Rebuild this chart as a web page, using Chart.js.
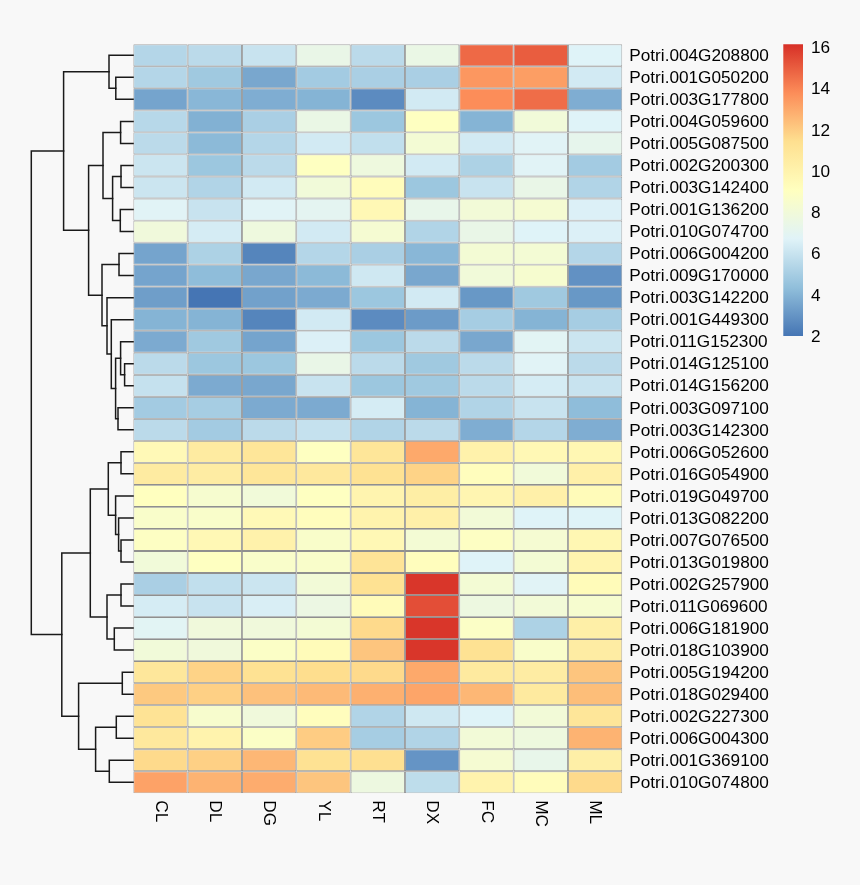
<!DOCTYPE html>
<html>
<head>
<meta charset="utf-8">
<title>Potri expression heatmap</title>
<script src="https://cdn.jsdelivr.net/npm/chart.js@4"></script>
<style>
  html, body { margin: 0; padding: 0; background: #f8f8f8; }
  #wrap { position: relative; width: 860px; height: 885px; overflow: hidden; }
  canvas { position: absolute; top: 0; }
</style>
</head>
<body>
<div id="wrap">
  <canvas id="treeChart" width="134" height="885" style="left:0"></canvas>
  <canvas id="heatChart" width="860" height="885" style="left:0"></canvas>
  <canvas id="legendChart" width="90" height="885" style="left:770px"></canvas>
</div>
<script>
const tissues = ["CL", "DL", "DG", "YL", "RT", "DX", "FC", "MC", "ML"];

const genes = [
  "Potri.004G208800", "Potri.001G050200", "Potri.003G177800", "Potri.004G059600",
  "Potri.005G087500", "Potri.002G200300", "Potri.003G142400", "Potri.001G136200",
  "Potri.010G074700", "Potri.006G004200", "Potri.009G170000", "Potri.003G142200",
  "Potri.001G449300", "Potri.011G152300", "Potri.014G125100", "Potri.014G156200",
  "Potri.003G097100", "Potri.003G142300", "Potri.006G052600", "Potri.016G054900",
  "Potri.019G049700", "Potri.013G082200", "Potri.007G076500", "Potri.013G019800",
  "Potri.002G257900", "Potri.011G069600", "Potri.006G181900", "Potri.018G103900",
  "Potri.005G194200", "Potri.018G029400", "Potri.002G227300", "Potri.006G004300",
  "Potri.001G369100", "Potri.010G074800"
];

// one row per gene, same order as tissues
const expression = [
  [5.4, 5.6, 6.0, 7.4, 5.6, 7.5, 14.7, 15.0, 6.7],
  [5.4, 4.8, 3.6, 4.9, 5.1, 5.1, 13.5, 13.3, 6.3],
  [3.5, 4.1, 3.8, 4.0, 2.7, 6.3, 13.8, 14.6, 3.8],
  [5.5, 3.9, 5.1, 7.5, 4.7, 9.0, 4.0, 8.0, 6.7],
  [5.6, 4.2, 5.4, 6.3, 5.8, 8.2, 6.3, 6.8, 7.2],
  [6.1, 4.7, 5.6, 9.0, 7.8, 6.3, 5.2, 6.8, 4.9],
  [6.1, 5.3, 6.3, 8.0, 9.3, 4.7, 6.0, 7.4, 5.3],
  [6.8, 6.0, 6.8, 7.0, 9.6, 7.3, 8.1, 8.3, 6.6],
  [7.9, 6.4, 7.8, 6.3, 8.3, 5.3, 7.4, 6.7, 6.6],
  [3.5, 5.2, 2.5, 5.4, 5.1, 4.1, 8.2, 8.2, 5.4],
  [3.5, 4.3, 3.6, 4.2, 6.2, 3.6, 8.0, 8.4, 2.9],
  [3.3, 2.0, 3.4, 3.7, 4.7, 6.3, 3.1, 4.8, 3.1],
  [4.0, 4.0, 2.5, 6.3, 2.7, 3.2, 5.0, 4.0, 5.0],
  [3.7, 4.8, 3.5, 6.6, 4.7, 5.6, 3.6, 6.9, 6.1],
  [5.6, 4.7, 4.7, 7.4, 5.6, 4.8, 5.6, 6.8, 5.6],
  [5.9, 3.7, 3.6, 6.0, 4.7, 4.8, 5.6, 6.4, 6.0],
  [4.9, 5.0, 3.7, 3.7, 6.4, 4.0, 5.3, 6.0, 4.3],
  [5.6, 4.9, 5.6, 5.9, 5.3, 5.6, 3.8, 5.4, 3.8],
  [9.5, 10.6, 11.0, 9.0, 11.0, 13.0, 10.1, 9.6, 9.7],
  [10.6, 10.5, 11.0, 10.8, 11.3, 11.8, 9.2, 8.0, 10.2],
  [9.1, 8.4, 8.0, 9.0, 9.9, 10.4, 9.8, 10.2, 9.4],
  [8.6, 8.6, 9.5, 9.2, 10.0, 10.2, 8.1, 6.7, 6.7],
  [8.9, 9.6, 10.1, 8.6, 9.6, 8.2, 8.9, 8.3, 9.7],
  [8.0, 9.0, 8.6, 8.6, 11.1, 9.2, 6.7, 8.2, 9.9],
  [5.1, 5.8, 6.1, 8.1, 11.3, 16.0, 8.2, 6.8, 9.4],
  [6.4, 6.0, 6.5, 7.6, 9.4, 15.4, 7.7, 8.1, 8.4],
  [6.9, 7.9, 7.9, 8.2, 11.6, 16.0, 8.8, 5.2, 10.3],
  [8.0, 7.9, 8.8, 9.4, 12.2, 16.0, 11.3, 8.6, 10.5],
  [10.9, 11.8, 11.3, 11.5, 11.6, 13.0, 10.7, 10.5, 12.2],
  [12.1, 11.9, 12.3, 12.5, 12.8, 13.1, 12.6, 10.7, 12.4],
  [11.2, 8.5, 7.9, 9.2, 5.3, 6.2, 6.7, 8.1, 11.0],
  [10.8, 10.0, 8.8, 12.0, 5.0, 5.3, 8.1, 7.8, 12.7],
  [11.6, 11.9, 12.6, 11.3, 11.4, 3.0, 8.3, 7.3, 10.3],
  [13.2, 12.7, 12.9, 12.2, 7.7, 5.7, 10.0, 9.3, 11.6]
];

// hclust style merge table: negative = leaf row (1 based), positive = earlier merge
const mergeLeft = [-2, -1, -4, -6, -8, 4, 3, -10, -15, -14, -17, 10, -13, -12, 8, 7, 2,
  -19, -23, -22, -21, 18, -25, -27, 23, 22, -29, -31, -33, 28, 27, 26, 17];
const mergeRight = [-3, 1, -5, -7, -9, 5, 6, -11, -16, 9, -18, 11, 12, 13, 14, 15, 16,
  -20, -24, 19, 20, 21, -26, -28, 24, 25, -30, -32, -34, 29, 30, 31, 32];
const mergeHeight = [17.5, 24.3, 12.7, 12.3, 13, 20.7, 30.3, 14.3, 8.7, 12.7, 15.3, 17.7, 22, 26.3, 31.3, 44.7, 69.7,
  12.3, 12.3, 14.7, 17.7, 25, 12.3, 19, 26.3, 43, 11, 17, 24, 37.7, 54.7, 71.5, 102];

const legendTicks = [2, 4, 6, 8, 10, 12, 14, 16];
const paletteColors = ["#4575B4", "#91BFDB", "#E0F3F8", "#FFFFBF", "#FEE090", "#FC8D59", "#D73027"];
const valueMin = 2;
const valueMax = 16.15;

const FONT = "'Liberation Sans', Arial, sans-serif";
const plotLeft = 133.3, plotRight = 622.3, plotTop = 44.3, plotBottom = 793.3;

function hexToRgb(hex) {
  return [1, 3, 5].map(i => parseInt(hex.slice(i, i + 2), 16));
}

function valueColor(v) {
  const t = (v - valueMin) / (valueMax - valueMin) * (paletteColors.length - 1);
  const i = Math.min(Math.floor(t), paletteColors.length - 2);
  const a = hexToRgb(paletteColors[i]);
  const b = hexToRgb(paletteColors[i + 1]);
  const c = a.map((n, k) => Math.round(n + (b[k] - n) * (t - i)));
  return `rgb(${c[0]},${c[1]},${c[2]})`;
}

/* ================= HEATMAP ================= */
// tissue names read downwards, which the x axis ticks can't anchor properly
const columnLabels = {
  id: "columnLabels",
  afterDraw(chart) {
    const { ctx, scales } = chart;
    ctx.save();
    ctx.font = `17.2px ${FONT}`;
    ctx.fillStyle = "#000";
    ctx.textAlign = "left";
    ctx.textBaseline = "middle";
    tissues.forEach((name, i) => {
      ctx.save();
      ctx.translate(scales.x.getPixelForValue(i + 0.5), plotBottom + 7);
      ctx.rotate(Math.PI / 2);
      ctx.fillText(name, 0, 0);
      ctx.restore();
    });
    ctx.restore();
  }
};

new Chart(document.getElementById("heatChart"), {
  type: "bar",
  data: {
    labels: genes,
    datasets: tissues.map((name, col) => ({
      label: name,
      data: genes.map(() => 1),
      backgroundColor: expression.map(row => valueColor(row[col])),
      borderColor: "#8f8f8f",
      borderWidth: 0.9,
      borderSkipped: false,
      inflateAmount: 0,
      barPercentage: 1,
      categoryPercentage: 1
    }))
  },
  options: {
    indexAxis: "y",
    responsive: false,
    animation: false,
    layout: { padding: { left: plotLeft, top: plotTop, right: 0, bottom: 885 - plotBottom } },
    plugins: { legend: { display: false }, tooltip: { enabled: false } },
    scales: {
      x: { display: false, stacked: true, min: 0, max: tissues.length },
      y: {
        stacked: true,
        position: "right",
        grid: { display: false, drawTicks: false },
        border: { display: false },
        afterFit: s => { s.width = 860 - plotRight; },
        ticks: { autoSkip: false, padding: 7, labelOffset: 1, color: "#000", font: { family: FONT, size: 17.2 } }
      }
    }
  },
  plugins: [columnLabels]
});

/* ================= DENDROGRAM ================= */
const nodeY = [];
const treeSets = mergeHeight.map((h, i) => {
  const childY = id => (id < 0 ? -id - 0.5 : nodeY[id - 1]);
  const childH = id => (id < 0 ? 0 : mergeHeight[id - 1]);
  const l = mergeLeft[i], r = mergeRight[i];
  nodeY[i] = (childY(l) + childY(r)) / 2;
  return {
    data: [
      { x: childH(l), y: childY(l) },
      { x: h, y: childY(l) },
      { x: h, y: childY(r) },
      { x: childH(r), y: childY(r) }
    ],
    showLine: true,
    borderColor: "#1a1a1a",
    borderWidth: 1.5,
    borderJoinStyle: "miter",
    borderCapStyle: "square",
    pointRadius: 0,
    clip: false
  };
});

new Chart(document.getElementById("treeChart"), {
  type: "scatter",
  data: { datasets: treeSets },
  options: {
    responsive: false,
    animation: false,
    layout: { padding: { left: 0, right: 0.7, top: plotTop, bottom: 885 - plotBottom } },
    plugins: { legend: { display: false }, tooltip: { enabled: false } },
    scales: {
      x: { display: false, reverse: true, min: 0, max: 133.3 },
      y: { display: false, reverse: true, min: 0, max: genes.length }
    }
  }
});

/* ================= COLOUR KEY ================= */
function keyGradient(context) {
  const { chart } = context;
  const scale = chart.scales.y;
  const y0 = scale ? scale.getPixelForValue(valueMin) : NaN;
  const y1 = scale ? scale.getPixelForValue(valueMax) : NaN;
  // scale has no pixels yet on the first pass
  if (!Number.isFinite(y0) || !Number.isFinite(y1)) return paletteColors[0];
  const grad = chart.ctx.createLinearGradient(0, y0, 0, y1);
  paletteColors.forEach((c, i) => grad.addColorStop(i / (paletteColors.length - 1), c));
  return grad;
}

new Chart(document.getElementById("legendChart"), {
  type: "bar",
  data: {
    labels: ["key"],
    datasets: [{
      data: [[valueMin, valueMax]],
      backgroundColor: keyGradient,
      borderSkipped: false,
      barPercentage: 1,
      categoryPercentage: 1
    }]
  },
  options: {
    responsive: false,
    animation: false,
    layout: { padding: { left: 13.3, top: plotTop, right: 0, bottom: 885 - 336 } },
    plugins: { legend: { display: false }, tooltip: { enabled: false } },
    scales: {
      x: { display: false },
      y: {
        position: "right",
        min: valueMin,
        max: valueMax,
        grid: { display: false, drawTicks: false },
        border: { display: false },
        afterBuildTicks: s => { s.ticks = legendTicks.map(value => ({ value })); },
        afterFit: s => { s.width = 57; },
        ticks: { padding: 8, labelOffset: 1, color: "#000", font: { family: FONT, size: 17.2 } }
      }
    }
  }
});
</script>
</body>
</html>
